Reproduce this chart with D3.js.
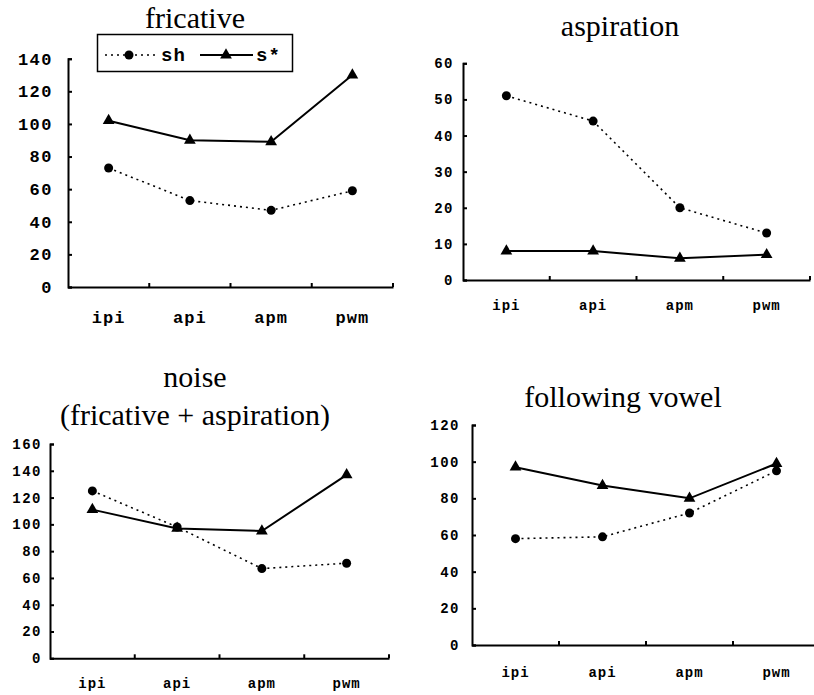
<!DOCTYPE html>
<html>
<head>
<meta charset="utf-8">
<script src="https://cdn.jsdelivr.net/npm/d3@7"></script>
<style>
	body { margin: 0; background: #fff; }
	.title { font-family: "Liberation Serif", "Times New Roman", serif; font-size: 30px; fill: #000; }
	.tick text { font-family: "Liberation Mono", "Courier New", monospace; font-weight: bold; fill: #000; }
	.domain, .tick line { stroke: #000; stroke-width: 2; }
</style>
</head>
<body>
<div id="graph"></div>
<script>
let categories = ['ipi', 'api', 'apm', 'pwm'];
let seriesNames = ['sh', 's*'];

let fricativeSh = [73, 53, 47, 59];
let fricativeS  = [102, 90, 89, 130];
let aspirationSh = [51, 44, 20, 13];
let aspirationS  = [8, 8, 6, 7];
let noiseSh = [125, 98, 67, 71];
let noiseS  = [111, 97, 95, 137];
let vowelSh = [58, 59, 72, 95];
let vowelS  = [97, 87, 80, 99];

let fricativeTicks  = [0, 20, 40, 60, 80, 100, 120, 140];
let aspirationTicks = [0, 10, 20, 30, 40, 50, 60];
let noiseTicks      = [0, 20, 40, 60, 80, 100, 120, 140, 160];
let vowelTicks      = [0, 20, 40, 60, 80, 100, 120];

// layout of the four panels
let panels = [
	{ title: ['fricative'], titleX: 195, titleY: [28], sh: fricativeSh, s: fricativeS, ticks: fricativeTicks,
	  left: 68, right: 393, top: 58.7, bottom: 287, font: 17, yPad: 15, xPad: 24, legend: true },
	{ title: ['aspiration'], titleX: 620, titleY: [36], sh: aspirationSh, s: aspirationS, ticks: aspirationTicks,
	  left: 463, right: 810, top: 63.3, bottom: 280, font: 14, yPad: 9, xPad: 20 },
	{ title: ['noise', '(fricative + aspiration)'], titleX: 195, titleY: [387, 425], sh: noiseSh, s: noiseS, ticks: noiseTicks,
	  left: 50, right: 389, top: 444, bottom: 658.3, font: 14, yPad: 8, xPad: 20 },
	{ title: ['following vowel'], titleX: 623, titleY: [407], sh: vowelSh, s: vowelS, ticks: vowelTicks,
	  left: 472, right: 820, top: 425, bottom: 645, font: 14, yPad: 12, xPad: 22 }
];

let svg = d3.select('#graph')
	.append('svg')
		.attr('width', 814)
		.attr('height', 695);

let triangle = d3.symbol().type(d3.symbolTriangle).size(60);

panels.forEach((p) => {
	let x = d3.scaleBand().domain(categories).range([p.left, p.right]);
	let y = d3.scaleLinear()
		.domain([0, d3.max(p.ticks)])
		.range([p.bottom, p.top]);

	let g = svg.append('g');

	p.title.forEach((t, i) => {
		g.append('text')
			.attr('class', 'title')
			.attr('x', p.titleX)
			.attr('y', p.titleY[i])
			.attr('text-anchor', 'middle')
			.text(t);
	});

	let yAxis = g.append('g')
		.attr('transform', 'translate(' + p.left + ', 0)')
		.call(d3.axisLeft(y).tickValues(p.ticks).tickSizeInner(-4).tickSizeOuter(-4).tickPadding(p.yPad));
	yAxis.selectAll('.tick text')
		.style('font-size', p.font + 'px')
		.style('letter-spacing', '1.5px');

	let xAxis = g.append('g')
		.attr('transform', 'translate(0, ' + p.bottom + ')')
		.call(d3.axisBottom(x).tickSize(0).tickPadding(p.xPad));
	xAxis.selectAll('.tick text')
		.style('font-size', p.font + 'px')
		.style('letter-spacing', '1px');

	// category boundary ticks pointing up
	xAxis.selectAll('.bound')
		.data(categories)
		.enter()
		.append('line')
			.attr('class', 'bound')
			.attr('x1', (d) => x(d) + x.bandwidth())
			.attr('x2', (d) => x(d) + x.bandwidth())
			.attr('y1', 0)
			.attr('y2', -4)
			.attr('stroke', '#000')
			.attr('stroke-width', 2);

	let cx = (d, i) => x(categories[i]) + x.bandwidth() / 2;
	let line = d3.line()
		.x(cx)
		.y((d) => y(d));

	g.append('path')
		.attr('d', line(p.sh))
		.attr('fill', 'none')
		.attr('stroke', '#000')
		.attr('stroke-width', 1.6)
		.attr('stroke-dasharray', '2,4');

	g.append('path')
		.attr('d', line(p.s))
		.attr('fill', 'none')
		.attr('stroke', '#000')
		.attr('stroke-width', 2);

	g.selectAll('.dot')
		.data(p.sh)
		.enter()
		.append('circle')
			.attr('cx', cx)
			.attr('cy', (d) => y(d))
			.attr('r', 4.5)
			.attr('fill', '#000');

	g.selectAll('.tri')
		.data(p.s)
		.enter()
		.append('path')
			.attr('d', triangle)
			.attr('transform', (d, i) => 'translate(' + cx(d, i) + ', ' + y(d) + ')')
			.attr('fill', '#000');

	if (p.legend) {
		let lg = g.append('g');
		lg.append('rect')
			.attr('x', 97.5)
			.attr('y', 34.5)
			.attr('width', 195)
			.attr('height', 37)
			.attr('fill', '#fff')
			.attr('stroke', '#000')
			.attr('stroke-width', 1.5);
		lg.append('line')
			.attr('x1', 105).attr('x2', 157)
			.attr('y1', 55).attr('y2', 55)
			.attr('stroke', '#000')
			.attr('stroke-width', 1.6)
			.attr('stroke-dasharray', '2,4');
		lg.append('circle')
			.attr('cx', 129).attr('cy', 55).attr('r', 4.5)
			.attr('fill', '#000');
		lg.append('line')
			.attr('x1', 200).attr('x2', 253)
			.attr('y1', 55).attr('y2', 55)
			.attr('stroke', '#000')
			.attr('stroke-width', 2);
		lg.append('path')
			.attr('d', triangle)
			.attr('transform', 'translate(226, 55)')
			.attr('fill', '#000');
		lg.selectAll('.lbl')
			.data(seriesNames)
			.enter()
			.append('text')
				.attr('x', (d, i) => i === 0 ? 161 : 256)
				.attr('y', 61)
				.style('font-family', '"Liberation Mono", "Courier New", monospace')
				.style('font-weight', 'bold')
				.style('font-size', '19px')
				.style('letter-spacing', '1px')
				.text((d) => d);
	}
});
</script>
</body>
</html>
